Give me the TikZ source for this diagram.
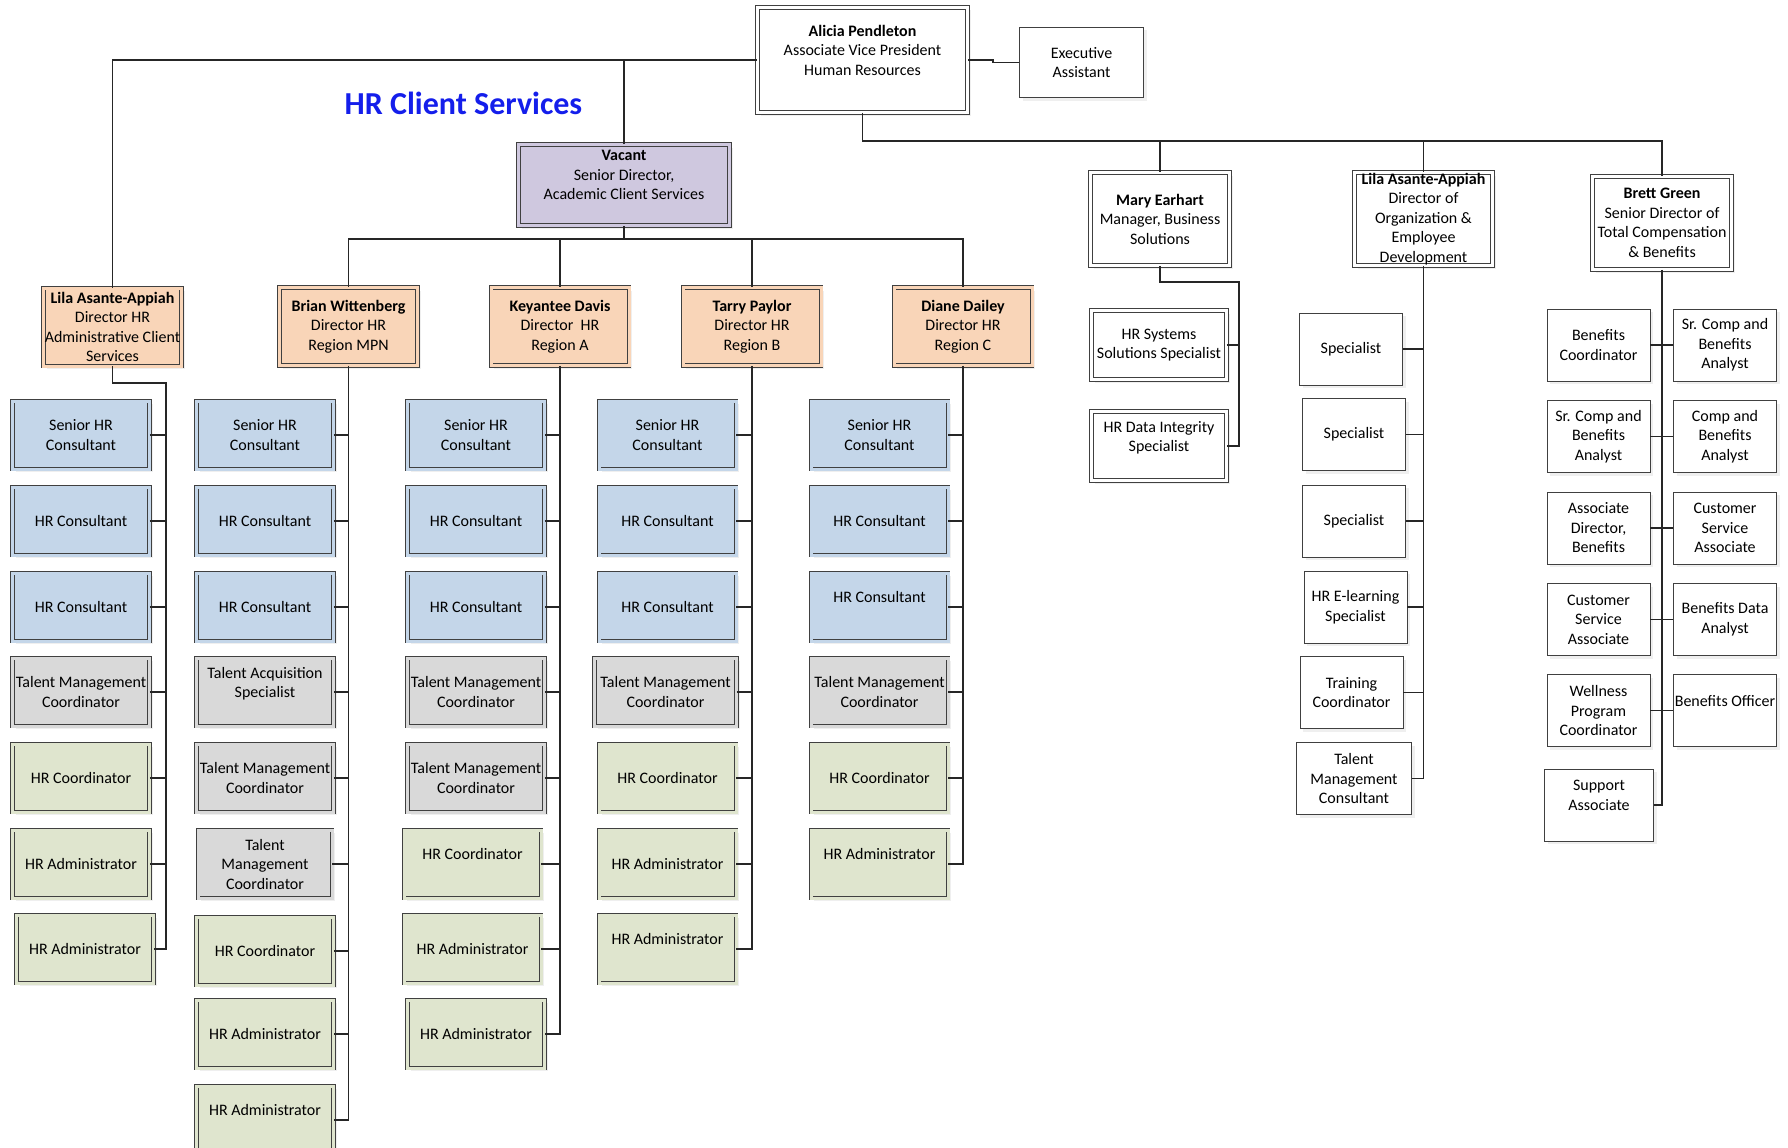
\documentclass[tikz,border=0pt]{standalone}
\usepackage{fontspec}
\setmainfont{Carlito}
\usetikzlibrary{shadows}

\definecolor{boxline}{RGB}{64,64,64}
\definecolor{peach}{RGB}{249,213,184}
\definecolor{lilac}{RGB}{207,200,223}
\definecolor{paleblue}{RGB}{196,214,233}
\definecolor{palegray}{RGB}{217,217,217}
\definecolor{palegreen}{RGB}{223,229,206}
\definecolor{titleblue}{RGB}{20,30,235}

\tikzset{
  box/.style={rectangle, draw=boxline, line width=0.9pt, fill=white, align=center,
    font=\fontsize{16}{19.5}\selectfont, inner sep=1pt,
    drop shadow={shadow xshift=3pt, shadow yshift=-3pt, fill=black!12}},
  dbox/.style={box, fill=#1, double=#1, double distance=3pt},
  dbox/.default=white,
  staff/.style={dbox=#1, minimum width=137, minimum height=68},
  head/.style={dbox=peach, minimum width=138, minimum height=78},
  side/.style={box, minimum width=103, minimum height=72},
  link/.style={line width=1.2pt, draw=black!85},
}

\begin{document}
\begin{tikzpicture}[x=1pt, y=-1pt]
    \useasboundingbox (0,0) rectangle (1788,1148);

    % top of the chart
    \node[dbox, minimum width=210, minimum height=105] (avp) at (862.5,60)
        {\textbf{Alicia Pendleton}\\Associate Vice President\\Human Resources\\~};
    \node[box, minimum width=124, minimum height=70] (exec) at (1081.5,62.5) {Executive\\Assistant};
    \node[text=titleblue, font=\fontsize{32}{38}\selectfont\bfseries] (title) at (463.5,103) {HR Client Services};
    \node[dbox=lilac, minimum width=211, minimum height=81] (vacant) at (624,185)
        {\textbf{Vacant}\\Senior Director,\\Academic Client Services\\~};

    % directors
    \node[head, inner sep=0pt] (lilaA) at (112.5,327) {\textbf{Lila Asante-Appiah}\\Director HR\\Administrative Client\\Services};
    \node[head] (brian) at (348.5,326.5) {\textbf{Brian Wittenberg}\\Director HR\\Region MPN};
    \node[head] (keyantee) at (560,326.5) {\textbf{Keyantee Davis}\\Director~ HR\\Region A};
    \node[head] (tarry) at (752,326.5) {\textbf{Tarry Paylor}\\Director HR\\Region B};
    \node[head] (diane) at (963,326.5) {\textbf{Diane Dailey}\\Director HR\\Region C};

    % column under Lila
    \node[staff=paleblue] (c1a) at (81,435) {Senior HR\\Consultant};
    \node[staff=paleblue] (c1b) at (81,521) {HR Consultant};
    \node[staff=paleblue] (c1c) at (81,607) {HR Consultant};
    \node[staff=palegray] (c1d) at (81,692) {Talent Management\\Coordinator};
    \node[staff=palegreen] (c1e) at (81,778) {HR Coordinator};
    \node[staff=palegreen] (c1f) at (81,864) {HR Administrator};
    \node[staff=palegreen] (c1g) at (85,949) {HR Administrator};

    % column under Brian
    \node[staff=paleblue] (c2a) at (265,435) {Senior HR\\Consultant};
    \node[staff=paleblue] (c2b) at (265,521) {HR Consultant};
    \node[staff=paleblue] (c2c) at (265,607) {HR Consultant};
    \node[staff=palegray] (c2d) at (265,692) {Talent Acquisition\\Specialist\\~};
    \node[staff=palegray] (c2e) at (265,778) {Talent Management\\Coordinator};
    \node[staff=palegray, minimum width=134] (c2f) at (265,864) {Talent\\Management\\Coordinator};
    \node[staff=palegreen] (c2g) at (265,951) {HR Coordinator};
    \node[staff=palegreen] (c2h) at (265,1034) {HR Administrator};
    \node[staff=palegreen] (c2i) at (265,1120) {HR Administrator\\~};

    % column under Keyantee
    \node[staff=paleblue] (c3a) at (476,435) {Senior HR\\Consultant};
    \node[staff=paleblue] (c3b) at (476,521) {HR Consultant};
    \node[staff=paleblue] (c3c) at (476,607) {HR Consultant};
    \node[staff=palegray] (c3d) at (476,692) {Talent Management\\Coordinator};
    \node[staff=palegray] (c3e) at (476,778) {Talent Management\\Coordinator};
    \node[staff=palegreen] (c3f) at (472.5,864) {HR Coordinator\\~};
    \node[staff=palegreen] (c3g) at (472.5,949) {HR Administrator};
    \node[staff=palegreen] (c3h) at (476,1034) {HR Administrator};

    % column under Tarry
    \node[staff=paleblue] (c4a) at (667.5,435) {Senior HR\\Consultant};
    \node[staff=paleblue] (c4b) at (667.5,521) {HR Consultant};
    \node[staff=paleblue] (c4c) at (667.5,607) {HR Consultant};
    \node[staff=palegray, minimum width=142] (c4d) at (665.5,692) {Talent Management\\Coordinator};
    \node[staff=palegreen] (c4e) at (667.5,778) {HR Coordinator};
    \node[staff=palegreen] (c4f) at (667.5,864) {HR Administrator};
    \node[staff=palegreen] (c4g) at (667.5,949) {HR Administrator\\~};

    % column under Diane
    \node[staff=paleblue] (c5a) at (879.5,435) {Senior HR\\Consultant};
    \node[staff=paleblue] (c5b) at (879.5,521) {HR Consultant};
    \node[staff=paleblue] (c5c) at (879.5,607) {HR Consultant\\~};
    \node[staff=palegray] (c5d) at (879.5,692) {Talent Management\\Coordinator};
    \node[staff=palegreen] (c5e) at (879.5,778) {HR Coordinator};
    \node[staff=palegreen] (c5f) at (879.5,864) {HR Administrator\\~};

    % right side managers
    \node[dbox, minimum width=139, minimum height=93] (mary) at (1160,219) {\textbf{Mary Earhart}\\Manager, Business\\Solutions};
    \node[dbox, minimum width=135, minimum height=69] (hrsys) at (1159,345) {HR Systems\\Solutions Specialist};
    \node[dbox, minimum width=135, minimum height=69] (hrdata) at (1159,446) {HR Data Integrity\\Specialist\\~};

    \node[dbox, minimum width=138, minimum height=93, inner sep=0pt] (lilaB) at (1423.5,219)
        {\textbf{Lila Asante-Appiah}\\Director of\\Organization \&\\Employee\\Development};
    \node[side] (spec1) at (1351,349) {Specialist};
    \node[side] (spec2) at (1354,434.5) {Specialist};
    \node[side] (spec3) at (1354,521) {Specialist};
    \node[side] (elearn) at (1355.5,607) {HR E-learning\\Specialist};
    \node[side] (train) at (1351.5,692.5) {Training\\Coordinator};
    \node[side, minimum width=115] (tmcons) at (1354,778.5) {Talent\\Management\\Consultant};

    \node[dbox, minimum width=139, minimum height=93] (brett) at (1662,223)
        {\textbf{Brett Green}\\Senior Director of\\Total Compensation\\\& Benefits};
    \node[side] (bl1) at (1598.5,345) {Benefits\\Coordinator};
    \node[side] (bl2) at (1598.5,436.5) {Sr. Comp and\\Benefits\\Analyst};
    \node[side] (bl3) at (1598.5,528) {Associate\\Director,\\Benefits};
    \node[side] (bl4) at (1598.5,619.5) {Customer\\Service\\Associate};
    \node[side] (bl5) at (1598.5,710.5) {Wellness\\Program\\Coordinator};
    \node[side] (br1) at (1725,345) {Sr. Comp and\\Benefits\\Analyst};
    \node[side] (br2) at (1725,436.5) {Comp and\\Benefits\\Analyst};
    \node[side] (br3) at (1725,528) {Customer\\Service\\Associate};
    \node[side] (br4) at (1725,619.5) {Benefits Data\\Analyst};
    \node[side] (br5) at (1725,710.5) {Benefits Officer\\~};
    \node[side, minimum width=109] (supp) at (1599,805) {Support\\Associate\\~};

    % connectors, upper part
    \draw[link] (avp.east) -- ++(25,0) |- (exec.west);
    \draw[link] (avp.west) -| (lilaA.north);
    \draw[link] (vacant.north) -- (vacant.north |- avp.west);
    \draw[link] (avp.south) -- ++(0,28) coordinate (rb) -| (brett.north);
    \draw[link] (rb) -| (mary.north);
    \draw[link] (rb) -| (lilaB.north);
    \draw[link] (vacant.south) -- ++(0,13) coordinate (vb) -| (brian.north);
    \draw[link] (vb) -| (keyantee.north);
    \draw[link] (vb) -| (tarry.north);
    \draw[link] (vb) -| (diane.north);

    % connectors, staff columns
    \coordinate (k1) at (166,383);
    \draw[link] (lilaA.south) |- (k1) |- (c1g.east);
    \foreach \n in {a,...,f} \draw[link] (c1\n.east) -- (c1\n.east -| k1);
    \draw[link] (brian.south) |- (c2i.east);
    \foreach \n in {a,...,h} \draw[link] (c2\n.east) -- (c2\n.east -| brian.south);
    \draw[link] (keyantee.south) |- (c3h.east);
    \foreach \n in {a,...,g} \draw[link] (c3\n.east) -- (c3\n.east -| keyantee.south);
    \draw[link] (tarry.south) |- (c4g.east);
    \foreach \n in {a,...,f} \draw[link] (c4\n.east) -- (c4\n.east -| tarry.south);
    \draw[link] (diane.south) |- (c5f.east);
    \foreach \n in {a,...,e} \draw[link] (c5\n.east) -- (c5\n.east -| diane.south);

    % connectors, right side
    \coordinate (k6) at (1239,282);
    \draw[link] (mary.south) |- (k6) |- (hrdata.east);
    \draw[link] (hrsys.east) -- (hrsys.east -| k6);
    \draw[link] (lilaB.south) |- (tmcons.east);
    \foreach \n in {spec1,spec2,spec3,elearn,train} \draw[link] (\n.east) -- (\n.east -| lilaB.south);
    \draw[link] (brett.south) |- (supp.east);
    \foreach \n in {1,...,5} \draw[link] (bl\n.east) -- (br\n.west);
\end{tikzpicture}
\end{document}
